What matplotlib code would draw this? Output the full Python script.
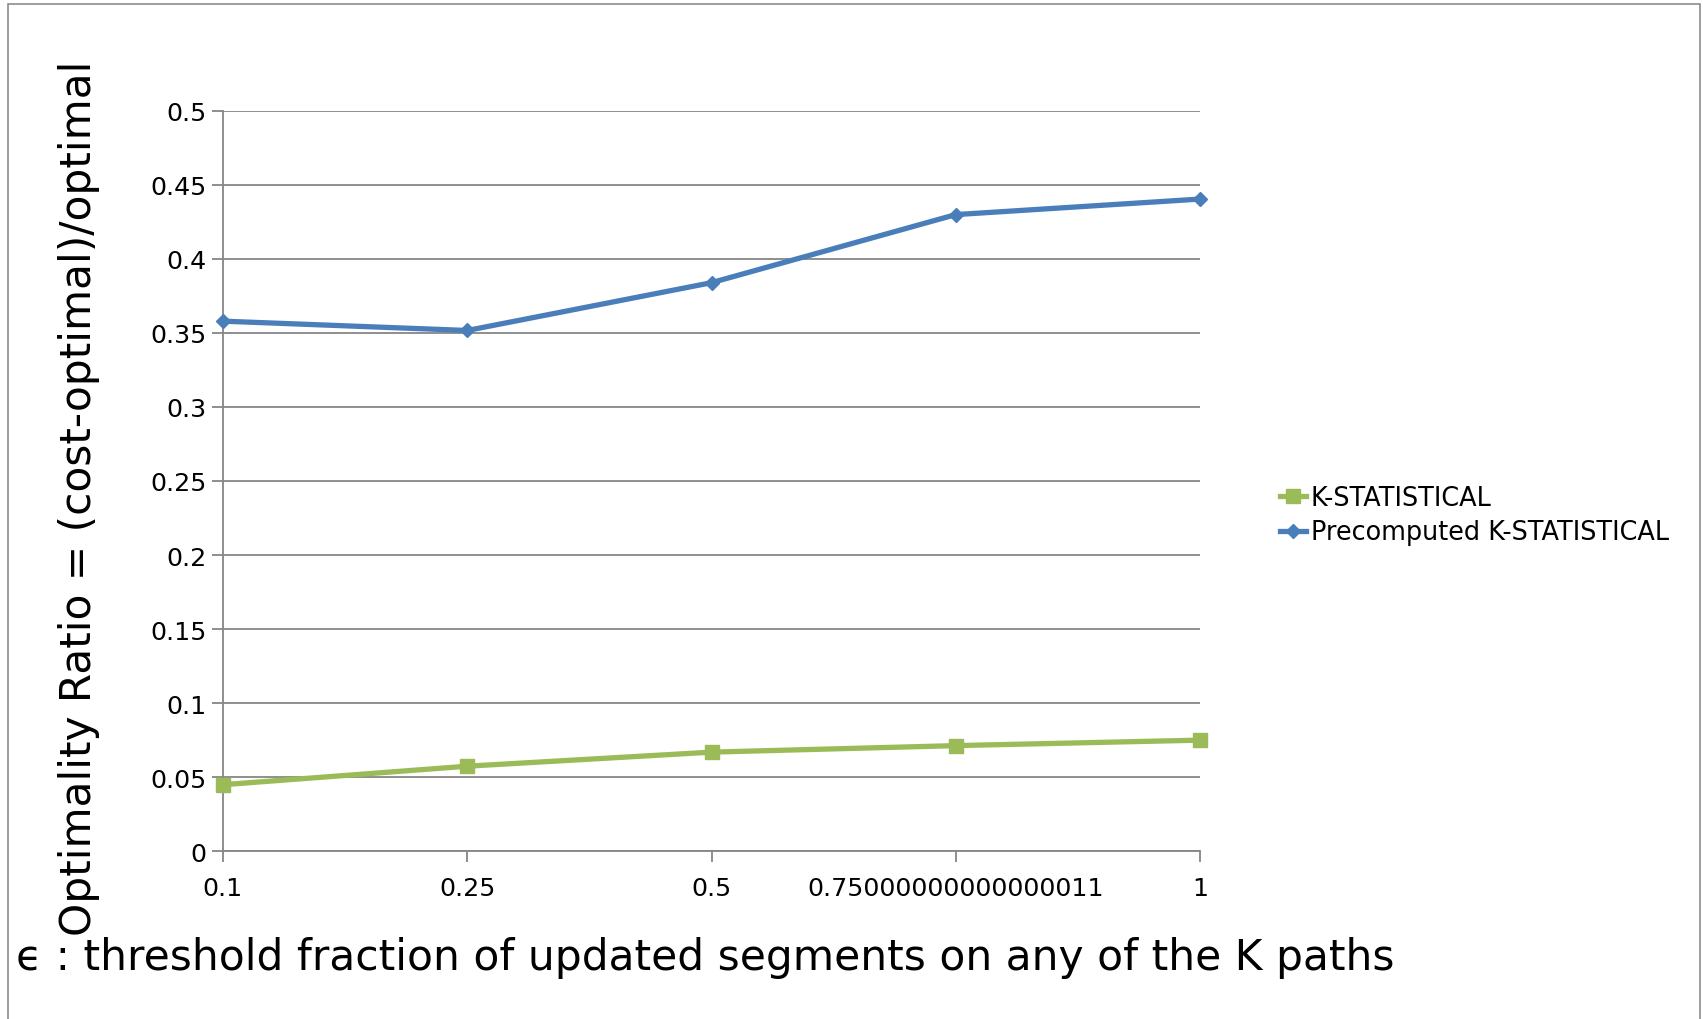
import matplotlib
matplotlib.use("Agg")
from matplotlib import pyplot as plt
from matplotlib.patches import Rectangle

# 数据
categories = ["0.1", "0.25", "0.5", "0.75000000000000011", "1"]
k_stat = [0.0448, 0.0573, 0.0668, 0.0712, 0.0749]
pre_k_stat = [0.358, 0.3517, 0.384, 0.430, 0.4405]
y_ticks = [0, 0.05, 0.1, 0.15, 0.2, 0.25, 0.3, 0.35, 0.4, 0.45, 0.5]
y_tick_labels = ["0", "0.05", "0.1", "0.15", "0.2", "0.25", "0.3", "0.35", "0.4", "0.45", "0.5"]

plt.rcParams['font.family'] = ['DejaVu Sans']
W, H = 1703, 1020
fig = plt.figure(figsize=(W / 100, H / 100), dpi=100)

# 外框
fig.patches.append(Rectangle((8 / W, -0.01), (1700 - 8) / W, 1 - 5 / H + 0.01,
                             transform=fig.transFigure, fill=False,
                             edgecolor="#8c8c8c", linewidth=1.2))

ax = fig.add_axes([223 / W, 1 - 852 / H, (1200 - 223) / W, (852 - 112) / H])
x = list(range(len(categories)))

ax.plot(x, k_stat, color="#9BBB59", lw=3.8, marker="s", ms=10,
        label="K-STATISTICAL", clip_on=False, zorder=3)
ax.plot(x, pre_k_stat, color="#4A7EBB", lw=3.8, marker="D", ms=7,
        label="Precomputed K-STATISTICAL", clip_on=False, zorder=3)

ax.set_xlim(0, 4)
ax.set_ylim(0, 0.5)
ax.set_xticks(x)
ax.set_xticklabels(categories, fontsize=18.2)
ax.set_yticks(y_ticks)
ax.set_yticklabels(y_tick_labels, fontsize=18.2)
ax.yaxis.grid(True, color="#868686", lw=1.3)
ax.set_axisbelow(True)
for s in ["top", "right"]:
    ax.spines[s].set_visible(False)
for s in ["left", "bottom"]:
    ax.spines[s].set_color("#868686")
    ax.spines[s].set_linewidth(1.3)
ax.tick_params(axis="both", length=8, width=1.3, color="#868686", direction="out")
ax.tick_params(axis="x", pad=10)
ax.tick_params(axis="y", pad=4)

fig.text(79 / W, 1 - 498 / H, "Optimality Ratio = (cost-optimal)/optimal",
         rotation=90, ha="center", va="center", fontsize=30.4)
fig.text(16 / W, 1 - 958 / H,
         "\u03f5 : threshold fraction of updated segments on any of the K paths",
         ha="left", va="center", fontsize=30.5)

ax.legend(loc="center left", bbox_to_anchor=(1270 / W, 1 - 516 / H),
          bbox_transform=fig.transFigure, frameon=False, fontsize=18.4,
          handlelength=1.0, handletextpad=0.2, labelspacing=0.35, borderaxespad=0)

plt.savefig("out.png", dpi=100)
